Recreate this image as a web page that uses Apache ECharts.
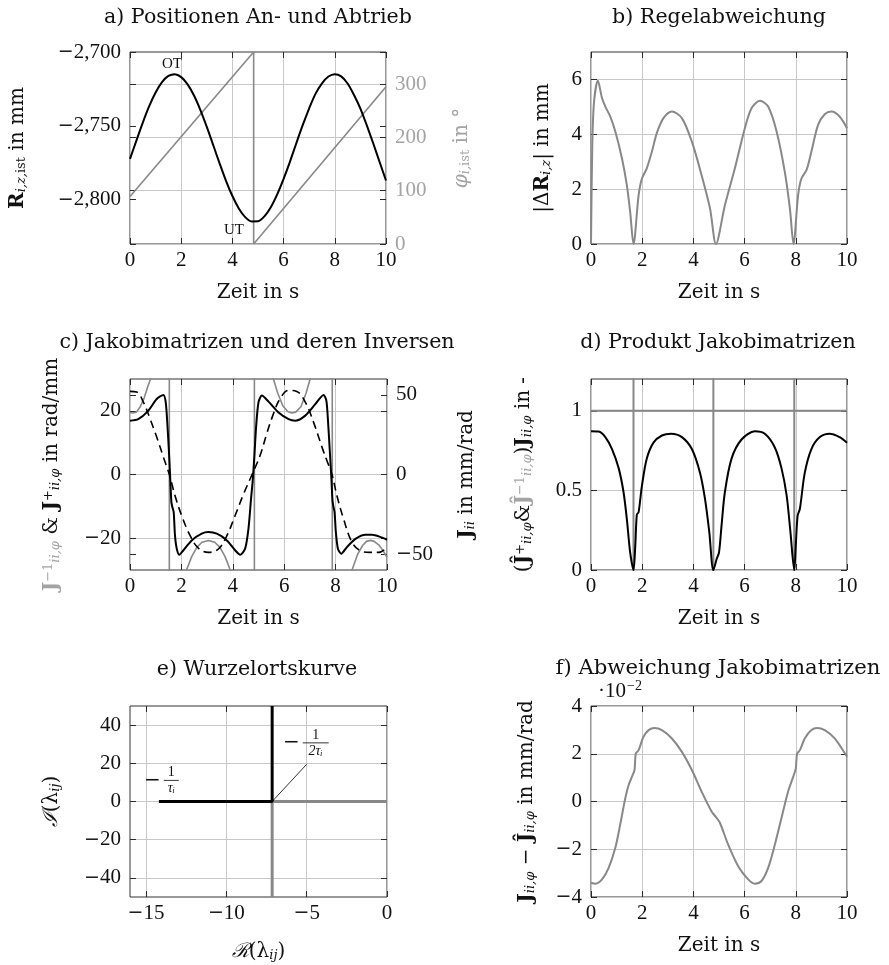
<!DOCTYPE html>
<html>
<head>
<meta charset="utf-8">
<script src="https://cdn.jsdelivr.net/npm/echarts@6/dist/echarts.min.js"></script>
<style>
  html, body { margin: 0; padding: 0; background: #fff; }
  #chart { width: 889px; height: 965px; }
</style>
</head>
<body>
<div id="chart"></div>
<script>
// ---- data (time in s) ----

// a) positions drive / output
const aTime = [0, 0.25, 0.5, 0.75, 1, 1.25, 1.5, 1.75, 2, 2.25, 2.5, 2.75, 3, 3.25, 3.5, 3.75, 4, 4.25, 4.5, 4.75, 5, 5.25, 5.5, 5.75, 6, 6.25, 6.5, 6.75, 7, 7.25, 7.5, 7.75, 8, 8.25, 8.5, 8.75, 9, 9.25, 9.5, 9.75, 10];
const aPosition = [-2772.4, -2760, -2747.8, -2736.7, -2727.4, -2720.4, -2716.2, -2715, -2717, -2721.9, -2729.5, -2739.3, -2750.7, -2763, -2775.4, -2787.2, -2797.5, -2805.9, -2811.8, -2814.7, -2814.6, -2811.3, -2805.1, -2796.4, -2785.9, -2774.2, -2761.6, -2749.4, -2738.1, -2728.2, -2721.2, -2716.6, -2715, -2716.5, -2721.3, -2729.1, -2738.3, -2749.7, -2761.8, -2774.5, -2787];
const aAngleTime = [0, 4.83, 4.83, 10];
const aAngle = [89, 360, 0, 295];

// b) control error
const bTime = [0, 0.05, 0.12, 0.27, 0.43, 0.56, 0.75, 0.95, 1.21, 1.40, 1.53, 1.66, 1.86, 1.99, 2.18, 2.38, 2.57, 2.83, 3.16, 3.55, 3.94, 4.32, 4.65, 4.88, 5.23, 5.62, 6.01, 6.27, 6.60, 6.92, 7.25, 7.57, 7.77, 7.91, 8.09, 8.22, 8.42, 8.61, 8.87, 9.13, 9.39, 9.71, 10];
const bError = [0, 3.6, 5.2, 5.95, 5.32, 5.01, 4.65, 4.1, 3.12, 2.15, 1.17, 0, 1.78, 2.39, 2.76, 3.37, 4.04, 4.59, 4.83, 4.59, 3.73, 2.51, 1.29, 0, 1.41, 2.76, 4.22, 4.95, 5.22, 5.01, 4.1, 2.63, 1.29, 0, 1.78, 2.39, 2.7, 3.37, 4.34, 4.73, 4.83, 4.65, 4.22];

// c) Jacobians and inverses
const cInvTime = [0, 0.1, 0.25, 0.4, 0.55, 0.7, 0.8, 0.9, 1.1, 1.53, 1.53, 1.9, 2.1, 2.2, 2.4, 2.6, 2.8, 3.05, 3.3, 3.5, 3.7, 3.9, 4.0, 4.3, 4.84, 4.84, 5.2, 5.45, 5.58, 5.75, 5.95, 6.15, 6.3, 6.45, 6.65, 6.85, 7.01, 7.15, 7.5, 7.87, 7.87, 8.2, 8.55, 8.64, 8.85, 9.05, 9.2, 9.35, 9.5, 9.7, 9.85, 10];
const cInverse = [19.5, 19.3, 19.6, 21.3, 24, 27.8, 30, 33, 45, 400, -400, -45, -33, -30, -25.8, -22.9, -21.3, -20.7, -21.3, -22.9, -25.8, -30, -33, -45, -400, 400, 45, 33, 30, 25.5, 21.5, 19.7, 19.3, 19.6, 21.3, 25.5, 30, 35, 60, 400, -400, -45, -33, -30, -25.2, -22.3, -21.0, -20.7, -21.0, -22.3, -24, -26];
const cPinvTime = [0, 0.32, 0.71, 1.04, 1.30, 1.39, 1.45, 1.51, 1.56, 1.61, 1.65, 1.70, 1.75, 1.82, 1.92, 2.08, 2.40, 2.79, 3.05, 3.38, 3.77, 4.09, 4.29, 4.48, 4.61, 4.71, 4.78, 4.84, 4.91, 5.0, 5.13, 5.39, 5.78, 6.17, 6.43, 6.82, 7.21, 7.53, 7.64, 7.70, 7.77, 7.83, 7.88, 7.92, 7.96, 8.01, 8.09, 8.22, 8.44, 8.77, 9.16, 9.42, 9.74, 10];
const cPseudoInv = [16.9, 17.4, 20.0, 23.7, 25.0, 22.7, 16.4, 8.0, -0.3, -8.7, -10.3, -11.8, -19.1, -23.3, -25.2, -23.8, -20.7, -18.6, -18.1, -18.6, -20.7, -23.8, -25.2, -23.3, -17.0, -7.6, -1.4, 5.9, 15.3, 22.7, 24.8, 22.9, 19.5, 17.4, 16.9, 18.5, 22.1, 25.0, 23.2, 17.4, 8.0, -0.3, -8.2, -10.3, -11.8, -18.1, -23.3, -24.9, -22.8, -20.2, -18.9, -18.9, -19.6, -20.5];
const cJacTime = [0, 0.26, 0.52, 0.78, 1.04, 1.30, 1.53, 1.75, 2.01, 2.34, 2.66, 3.05, 3.44, 3.77, 4.09, 4.42, 4.75, 5.06, 5.32, 5.58, 5.84, 6.17, 6.49, 6.82, 7.14, 7.47, 7.66, 7.86, 8.05, 8.31, 8.64, 8.96, 9.35, 9.68, 10];
const cJacobian = [52.2, 51.8, 45.5, 35.0, 23.5, 10.9, 0, -13.2, -25.8, -38.4, -46.3, -48.9, -46.8, -38.4, -25.8, -12.2, 0, 11.9, 25.6, 38.1, 47.6, 52.8, 52.2, 45.5, 32.9, 17.2, 8.8, 0, -13.2, -27.9, -42.6, -47.8, -48.9, -48.9, -45.7];

// d) product of Jacobians
const dTime = [0, 0.3, 0.56, 0.82, 1.08, 1.27, 1.40, 1.53, 1.66, 1.73, 1.79, 1.86, 1.99, 2.18, 2.44, 2.77, 3.13, 3.55, 3.94, 4.26, 4.45, 4.62, 4.78, 4.91, 5.0, 5.10, 5.23, 5.49, 5.88, 6.40, 6.79, 7.18, 7.44, 7.64, 7.79, 7.94, 8.0, 8.07, 8.16, 8.35, 8.61, 8.94, 9.32, 9.71, 10];
const dProduct = [0.872, 0.87, 0.835, 0.76, 0.64, 0.49, 0.32, 0.11, 0, 0.155, 0.347, 0.364, 0.53, 0.70, 0.80, 0.845, 0.856, 0.835, 0.76, 0.61, 0.45, 0.24, 0, 0.07, 0.11, 0.28, 0.49, 0.70, 0.82, 0.872, 0.856, 0.77, 0.64, 0.47, 0.24, 0, 0.155, 0.34, 0.385, 0.61, 0.76, 0.835, 0.856, 0.835, 0.80];
const dRefTime = [0, 1.66, 1.66, 1.66, 1.66, 4.78, 4.78, 4.78, 4.78, 7.94, 7.94, 7.94, 7.94, 10];
const dReference = [1, 1, 5, -5, 1, 1, 5, -5, 1, 1, 5, -5, 1, 1];

// e) root locus
const eBlackRe = [-14.2, -7.15, -7.15];
const eBlackIm = [0, 0, 50];
const eGreyRe = [0, -7.15, -7.15];
const eGreyIm = [0, 0, -50];
const eLeaderRe = [-7.15, -5];
const eLeaderIm = [0, 19.5];

// f) deviation of Jacobians (in 1e-2 mm/rad)
const fTime = [0, 0.17, 0.43, 0.69, 0.95, 1.14, 1.34, 1.47, 1.60, 1.70, 1.75, 1.86, 2.05, 2.25, 2.48, 2.77, 3.16, 3.55, 3.94, 4.32, 4.71, 4.91, 5.04, 5.36, 5.75, 6.14, 6.40, 6.66, 6.92, 7.18, 7.44, 7.70, 7.90, 8.00, 8.05, 8.16, 8.35, 8.61, 8.83, 9.13, 9.52, 10];
const fDeviation = [-3.40, -3.44, -3.26, -2.78, -1.94, -0.97, 0.14, 0.69, 1.04, 1.32, 2.01, 2.15, 2.71, 2.99, 3.08, 2.99, 2.64, 2.08, 1.32, 0.42, -0.42, -0.69, -0.90, -1.81, -2.71, -3.26, -3.44, -3.33, -2.78, -1.81, -0.69, 0.42, 1.04, 1.39, 2.01, 2.15, 2.64, 2.99, 3.08, 2.99, 2.64, 1.875];

// tick values
const timeTicks = [0, 2, 4, 6, 8, 10];
const aPosTicks = [-2800, -2750, -2700];
const aAngleTicks = [0, 100, 200, 300];
const bTicks = [0, 2, 4, 6];
const cLeftTicks = [-20, 0, 20];
const cRightTicks = [-50, 0, 50];
const dTicks = [0, 0.5, 1];
const eReTicks = [-15, -10, -5, 0];
const eImTicks = [-40, -20, 0, 20, 40];
const fTicks = [-4, -2, 0, 2, 4];

// ---- styling ----
const TICK_FONT = 'Liberation Serif';
const TEXT_FONT = 'DejaVu Serif';
const INK = '#111';
const GREY = '#888';
const GREY_TEXT = '#a3a3a3';
const GRID_LINE = '#c8c8c8';

const pairs = (xs, ys) => xs.map((x, i) => [x, ys[i]]);
// wide math minus, as in the reference
const signed = v => (v < 0 ? '{m|\u2212}' : '') + Math.abs(v);
const thousands = v => (v < 0 ? '{m|\u2212}' : '') + Math.abs(v).toLocaleString('en-US');

function tok(color, extra) {
  return Object.assign({fontFamily: TEXT_FONT, fontSize: 20, color: color}, extra);
}
const SUB = {fontSize: 13, verticalAlign: 'bottom', lineHeight: 12};
const SUP = {fontSize: 13, verticalAlign: 'top', lineHeight: 12};
const RICH = {
  B: tok(INK, {fontWeight: 'bold'}),
  gB: tok(GREY_TEXT, {fontWeight: 'bold'}),
  i: tok(INK, {fontStyle: 'italic'}),
  gi: tok(GREY_TEXT, {fontStyle: 'italic'}),
  si: tok(INK, Object.assign({fontStyle: 'italic'}, SUB)),
  gsi: tok(GREY_TEXT, Object.assign({fontStyle: 'italic'}, SUB)),
  s: tok(INK, SUB),
  gs: tok(GREY_TEXT, SUB),
  sup: tok(INK, SUP),
  gsup: tok(GREY_TEXT, SUP),
  g: tok(GREY_TEXT, {})
};
const LABEL_RICH = {m: {fontFamily: 'DejaVu Serif', fontSize: 19, color: INK}};

const grids = [
  {left: 130, top: 52, width: 256, height: 192},
  {left: 591, top: 52, width: 256, height: 192},
  {left: 130, top: 379, width: 257, height: 191},
  {left: 591, top: 379, width: 256, height: 191},
  {left: 130, top: 706, width: 257, height: 191},
  {left: 591, top: 706, width: 256, height: 191}
].map(g => Object.assign({show: true, borderColor: '#333', borderWidth: 1, containLabel: false, outerBoundsMode: 'none'}, g));

function axis(o) {
  return {
    type: 'value',
    gridIndex: o.grid,
    position: o.pos,
    min: o.min,
    max: o.max,
    axisLine: {show: false, onZero: false},
    axisTick: {show: true, inside: true, length: 6, lineStyle: {color: '#2a2a2a', width: 1}, customValues: o.ticks},
    axisLabel: {
      show: !!o.label,
      customValues: o.ticks,
      margin: o.margin == null ? 9 : o.margin,
      fontFamily: TICK_FONT,
      fontSize: 21,
      color: o.labelColor || INK,
      formatter: o.fmt || signed,
      rich: LABEL_RICH
    },
    splitLine: {show: !!o.split, lineStyle: {color: GRID_LINE, width: 1}},
    name: o.name || '',
    nameLocation: 'middle',
    nameGap: o.gap || 0,
    nameTextStyle: {fontFamily: TEXT_FONT, fontSize: 20, color: o.nameColor || INK, rich: RICH}
  };
}

const zeitName = 'Zeit in s';
const xAxes = [];
[0, 1, 2, 3, 5].forEach(g => {
  xAxes[g * 2] = axis({grid: g, pos: 'bottom', min: 0, max: 10, ticks: timeTicks, label: true, split: true, margin: 6, name: zeitName, gap: 39});
  xAxes[g * 2 + 1] = axis({grid: g, pos: 'top', min: 0, max: 10, ticks: timeTicks});
});
xAxes[8] = axis({grid: 4, pos: 'bottom', min: -16, max: 0, ticks: eReTicks, label: true, split: true, margin: 6, name: '{i|ℛ}(λ{si|ij})', gap: 45});
xAxes[9] = axis({grid: 4, pos: 'top', min: -16, max: 0, ticks: eReTicks});

const yAxes = [
  // grid a
  axis({grid: 0, pos: 'left', min: -2830, max: -2700, ticks: aPosTicks, label: true, fmt: thousands, name: '{B|R}{si|i,z,}{s|ist} in mm', gap: 102}),
  axis({grid: 0, pos: 'right', min: 0, max: 360, ticks: aAngleTicks, label: true, split: true, labelColor: GREY_TEXT, name: '{gi|φ}{gsi|i,}{gs|ist} in °', nameColor: GREY_TEXT, gap: 66}),
  axis({grid: 0, pos: 'right', min: -2830, max: -2700, ticks: aPosTicks}),
  axis({grid: 0, pos: 'left', min: 0, max: 360, ticks: aAngleTicks}),
  // grid b
  axis({grid: 1, pos: 'left', min: 0, max: 7, ticks: bTicks, label: true, split: true, name: '|Δ{B|R}{si|i,z}| in mm', gap: 38}),
  axis({grid: 1, pos: 'right', min: 0, max: 7, ticks: bTicks}),
  // grid c
  axis({grid: 2, pos: 'left', min: -30, max: 30, ticks: cLeftTicks, label: true, split: true, name: '{gB|J}{gsup|−1}{gsi|ii,φ} & {B|J}{sup|+}{si|ii,φ} in rad/mm', gap: 68}),
  axis({grid: 2, pos: 'right', min: -60, max: 60, ticks: cRightTicks, label: true, name: '{B|J}{si|ii} in mm/rad', gap: 70}),
  axis({grid: 2, pos: 'right', min: -30, max: 30, ticks: cLeftTicks}),
  axis({grid: 2, pos: 'left', min: -60, max: 60, ticks: cRightTicks}),
  // grid d
  axis({grid: 3, pos: 'left', min: 0, max: 1.2, ticks: dTicks, label: true, split: true, name: '({B|Ĵ}{sup|+}{si|ii,φ}&{gB|Ĵ}{gsup|−1}{gsi|ii,φ}){B|J}{si|ii,φ} in -', gap: 57}),
  axis({grid: 3, pos: 'right', min: 0, max: 1.2, ticks: dTicks}),
  // grid e
  axis({grid: 4, pos: 'left', min: -50, max: 50, ticks: eImTicks, label: true, split: true, name: '{i|ℐ}(λ{si|ij})', gap: 68}),
  axis({grid: 4, pos: 'right', min: -50, max: 50, ticks: eImTicks}),
  // grid f
  axis({grid: 5, pos: 'left', min: -4, max: 4, ticks: fTicks, label: true, split: true, name: '{B|J}{si|ii,φ} − {B|Ĵ}{si|ii,φ} in mm/rad', gap: 54}),
  axis({grid: 5, pos: 'right', min: -4, max: 4, ticks: fTicks})
];

function line(x, y, data, color, width, extra) {
  return Object.assign({
    type: 'line', xAxisIndex: x, yAxisIndex: y, data: data,
    showSymbol: false, symbol: 'none', silent: true, clip: true,
    lineStyle: {color: color, width: width}
  }, extra || {});
}

const series = [
  line(0, 1, pairs(aAngleTime, aAngle), GREY, 1.6),
  line(0, 0, pairs(aTime, aPosition), '#000', 2, {smooth: 0.3}),
  line(2, 4, pairs(bTime, bError), GREY, 2, {smooth: 0.3}),
  line(4, 6, pairs(cInvTime, cInverse), GREY, 1.6),
  line(4, 7, pairs(cJacTime, cJacobian), '#000', 1.6, {smooth: 0.4, lineStyle: {color: '#000', width: 1.6, type: [8, 5]}}),
  line(4, 6, pairs(cPinvTime, cPseudoInv), '#000', 2, {smooth: 0.25}),
  line(6, 10, pairs(dRefTime, dReference), GREY, 2),
  line(6, 10, pairs(dTime, dProduct), '#000', 2, {smooth: 0.3}),
  line(8, 12, pairs(eGreyRe, eGreyIm), GREY, 3),
  line(8, 12, pairs(eBlackRe, eBlackIm), '#000', 3),
  line(8, 12, pairs(eLeaderRe, eLeaderIm), '#000', 0.8),
  line(10, 14, pairs(fTime, fDeviation), GREY, 2, {smooth: 0.3})
];

const chart = echarts.init(document.getElementById('chart'));
chart.setOption({
  animation: false,
  backgroundColor: '#fff',
  grid: grids,
  xAxis: xAxes,
  yAxis: yAxes,
  series: series
});

// ---- titles and annotations ----
const titles = [
  ['a) Positionen An- und Abtrieb', 258, 18, 20.6],
  ['b) Regelabweichung', 719, 18, 20.6],
  ['c) Jakobimatrizen und deren Inversen', 257, 343, 20.6],
  ['d) Produkt Jakobimatrizen', 718, 343, 20.6],
  ['e) Wurzelortskurve', 257, 670, 20.6],
  ['f) Abweichung Jakobimatrizen', 718, 668, 21.2]
];
const px = (xi, yi, pt) => chart.convertToPixel({xAxisIndex: xi, yAxisIndex: yi}, pt);
const txt = (text, x, y, font, align, valign, color) => ({
  type: 'text', x: x, y: y, silent: true,
  style: {text: text, font: font, fill: color || INK, textAlign: align, textVerticalAlign: valign}
});

const graphics = titles.map(([t, x, y, fs]) => txt(t, x, y, fs + 'px "DejaVu Serif"', 'center', 'middle'));

// OT / UT labels in plot a
const ot = px(0, 0, [1.64, -2708]);
const ut = px(0, 0, [4.06, -2820.5]);
graphics.push(txt('OT', ot[0], ot[1], '15px "Liberation Serif"', 'center', 'middle'));
graphics.push(txt('UT', ut[0], ut[1], '15px "Liberation Serif"', 'center', 'middle'));

// fractions in plot e
function fraction(pt, num, den, half) {
  const cx = pt[0], cy = pt[1];
  return [
    {type: 'line', silent: true, shape: {x1: cx - half, y1: cy, x2: cx + half, y2: cy}, style: {stroke: '#000', lineWidth: 0.8}},
    txt(num, cx, cy - 1, '14px "Liberation Serif"', 'center', 'bottom'),
    txt(den, cx, cy + 1, 'italic 14px "Liberation Serif"', 'center', 'top'),
    txt('\u2212', cx - half - 3, cy, '20px "DejaVu Serif"', 'right', 'middle')
  ];
}
graphics.push(...fraction(px(8, 12, [-4.44, 30.7]), '1', '2τᵢ', 13));
graphics.push(...fraction(px(8, 12, [-13.43, 11.05]), '1', 'τᵢ', 7.5));

// scale note in plot f
const fCorner = px(10, 14, [0, 4]);
graphics.push(txt('·10', fCorner[0] + 7, fCorner[1] - 4, '21px "Liberation Serif"', 'left', 'bottom'));
graphics.push(txt('\u22122', fCorner[0] + 36, fCorner[1] - 13, '14px "Liberation Serif"', 'left', 'bottom'));

chart.setOption({graphic: graphics});
</script>
</body>
</html>
